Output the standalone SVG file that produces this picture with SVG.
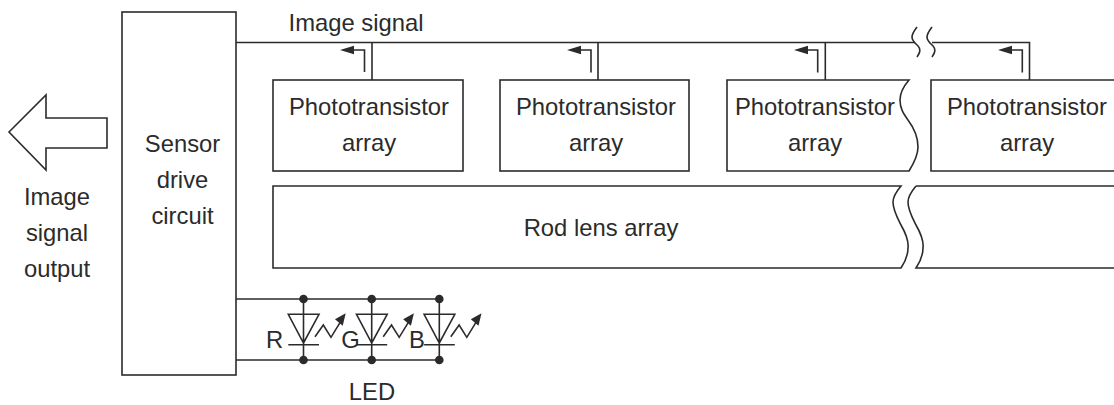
<svg xmlns="http://www.w3.org/2000/svg" width="1114" height="405" viewBox="0 0 1114 405">
<style>
.l{fill:none;stroke:#2b2b2b;stroke-width:1.6}
.t{font-family:"Liberation Sans",Arial,sans-serif;font-size:23.8px;fill:#2b2b2b;text-anchor:middle}
.d{fill:#2b2b2b}
</style>
<defs>
<g id="led"><path class="l" d="M288.300 314.300H319L303.500 343ZM303.500 299V360M288.300 344.700H319M315 336.700L323.300 325L331 337.300L340 322.700"/><path d="M345.700 313.300L342.700 325.700L335 319.300Z" class="d"/><circle class="d" cx="303.500" cy="299" r="4.300"/><circle class="d" cx="303.500" cy="360" r="4.300"/></g>
</defs>
<g id="sensor-drive-circuit"><rect class="l" x="122" y="12" width="114" height="363"/><text class="t" x="182.500" y="152">Sensor</text><text class="t" x="182.500" y="188">drive</text><text class="t" x="182.500" y="223.500">circuit</text></g>
<g id="output-arrow"><path class="l" d="M9 132L46 95V118H107V148H46V170Z"/></g>
<g id="output-label"><text class="t" x="57" y="205">Image</text><text class="t" x="57" y="241">signal</text><text class="t" x="57" y="277">output</text></g>
<g id="array-1"><rect class="l" x="273" y="80" width="190" height="91"/><text class="t" x="369" y="114.500">Phototransistor</text><text class="t" x="369" y="150.500">array</text></g>
<g id="array-2"><rect class="l" x="500" y="80" width="189" height="91"/><text class="t" x="596" y="114.500">Phototransistor</text><text class="t" x="596" y="150.500">array</text></g>
<g id="array-3"><path class="l" d="M909 80C903 87 900 93 900 100C900 108 903 113 908 120C914 128 918 137 918 147C918 155 914 163 909 171H727V80Z"/><text class="t" x="815" y="114.500">Phototransistor</text><text class="t" x="815" y="150.500">array</text></g>
<g id="array-4"><path class="l" d="M1114 80H931V171H1114"/><text class="t" x="1027" y="114.500">Phototransistor</text><text class="t" x="1027" y="150.500">array</text></g>
<g id="rod-lens-array"><path class="l" d="M901 186H273V268H901C905 262 908 255 908 248C909 240 905 232 901 225C897 217 893 210 893 202C893 197 896 192 901 186ZM916 186H1114M1114 268H916C920 262 923 255 923 248C924 240 920 232 916 225C912 217 908 210 908 202C908 197 911 192 916 186"/><text class="t" x="601" y="236">Rod lens array</text></g>
<g id="led-r"><use href="#led"/></g>
<g id="led-g"><use href="#led" x="68.200"/></g>
<g id="led-b"><use href="#led" x="135.800"/></g>
<g id="connectors">
<path class="l" d="M236 42.500H915M932 42.500H1029.500V80M372 42.500V80M598 42.500V80M825.300 42.500V80"/>
<path class="l" d="M917 27C914 31 912 34 912 37C912 41 915 43 918 46C921 49 920 53 917 57M932 27C929 31 927 34 927 37C927 41 930 43 933 46C936 49 935 53 932 57"/>
<path class="l" d="M364.500 72V50H353M591 72.500V50H580M817.700 72.500V50H807M1022.300 72.500V50H1011"/>
<path class="d" d="M340 50L354 45.700V54.300ZM567 50L581 45.700V54.300ZM794 50L808 45.700V54.300ZM998 50L1012 45.700V54.300Z"/>
<path class="l" d="M236 299H439.300M236 360H439.300"/>
</g>
<g id="labels"><text class="t" x="356" y="31">Image signal</text><text class="t" x="274.500" y="348">R</text><text class="t" x="350.500" y="348">G</text><text class="t" x="417" y="348">B</text><text class="t" x="372" y="400">LED</text></g>
</svg>
